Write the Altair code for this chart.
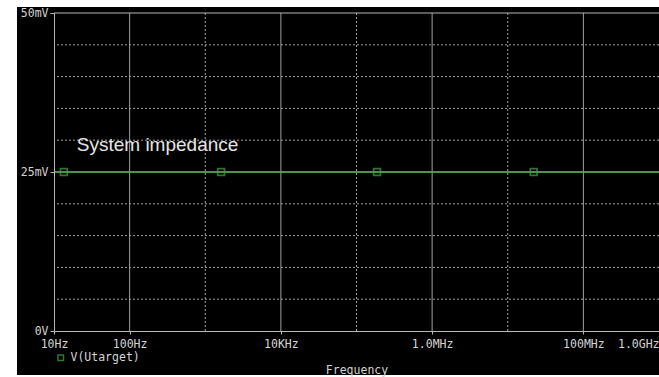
import altair as alt
import pandas as pd

# ---- data ----
freq_hz = [10, 1e9]
v_mv = [25, 25]
marker_hz = [13.5, 1620, 187000, 22000000]
marker_mv = [25, 25, 25, 25]
major_x = [100, 1e4, 1e6, 1e8]
minor_x = [1e3, 1e5, 1e7]
major_y = [25, 50]
minor_y = [5, 10, 15, 20, 30, 35, 40, 45]
x_tick_values = [10, 100, 1e4, 1e6, 1e8, 1e9]
x_tick_labels = ["10Hz", "100Hz", "10KHz", "1.0MHz", "100MHz", "1.0GHz"]
y_tick_values = [0, 25, 50]
y_tick_labels = ["0V", "25mV", "50mV"]
series_name = "V(Utarget)"
ann_text = ["System impedance"]
ann_hz = [20]
ann_mv = [29.2]

GRID = "#a0a0a0"
AXIS = "#b8b8b8"
TXT = "#d4d4d4"
GREEN = "#48a448"
MONO = "DejaVu Sans Mono"

xmap = "{" + ",".join(f"'{int(v)}':'{l}'" for v, l in zip(x_tick_values, x_tick_labels)) + "}"
ymap = "{" + ",".join(f"'{int(v)}':'{l}'" for v, l in zip(y_tick_values, y_tick_labels)) + "}"

xscale = alt.Scale(type="log", domain=[10, 1e9], nice=False)
yscale = alt.Scale(domain=[0, 50], nice=False, zero=False)

x_axis = alt.Axis(
    values=x_tick_values,
    labelExpr=xmap + "[toString(datum.value)]",
    grid=False,
    zindex=1,
    domainColor=AXIS,
    tickColor=AXIS,
    tickSize=3,
    labelColor=TXT,
    labelFont=MONO,
    labelFontSize=11.5,
    labelPadding=4,
    labelBound=False,
    labelFlush=False,
    labelOverlap=False,
    labelAlign={"condition": {"test": "datum.value >= 1e9", "value": "right"}, "value": "center"},
    title="Frequency",
    titleFont=MONO,
    titleFontSize=11.5,
    titleFontWeight="normal",
    titleColor=TXT,
    titlePadding=15,
)
y_axis = alt.Axis(
    values=y_tick_values,
    labelExpr=ymap + "[toString(datum.value)]",
    grid=False,
    zindex=1,
    domainColor=AXIS,
    tickColor=AXIS,
    tickSize=4,
    labelColor=TXT,
    labelFont=MONO,
    labelFontSize=11.5,
    labelPadding=2,
    labelBound=False,
    labelFlush=False,
    labelOverlap=False,
    title=None,
)

line_df = pd.DataFrame({"f": freq_hz, "v": v_mv})
mark_df = pd.DataFrame({"f": marker_hz, "v": marker_mv, "s": [series_name] * len(marker_hz)})
ann_df = pd.DataFrame({"f": ann_hz, "v": ann_mv, "t": ann_text})

bg = alt.Chart(pd.DataFrame({"a": [0]})).mark_rect(color="#000000").encode(
    x=alt.value(-37), x2=alt.value(605), y=alt.value(-6), y2=alt.value(362)
)

vminor = alt.Chart(pd.DataFrame({"f": minor_x})).mark_rule(color=GRID, strokeDash=[2, 2], strokeWidth=1).encode(
    x=alt.X("f:Q", scale=xscale, axis=x_axis)
)
vmajor = alt.Chart(pd.DataFrame({"f": major_x})).mark_rule(color=GRID, strokeWidth=1).encode(
    x=alt.X("f:Q", scale=xscale, axis=x_axis)
)
hminor = alt.Chart(pd.DataFrame({"v": minor_y})).mark_rule(color=GRID, strokeDash=[2, 2], strokeWidth=1).encode(
    y=alt.Y("v:Q", scale=yscale, axis=y_axis)
)
hmajor = alt.Chart(pd.DataFrame({"v": major_y})).mark_rule(color=AXIS, strokeWidth=1).encode(
    y=alt.Y("v:Q", scale=yscale, axis=y_axis)
)

line = alt.Chart(line_df).mark_line(color=GREEN, strokeWidth=1.3).encode(
    x=alt.X("f:Q", scale=xscale, axis=x_axis),
    y=alt.Y("v:Q", scale=yscale, axis=y_axis),
)

points = alt.Chart(mark_df).mark_point(shape="square", filled=False, size=46, strokeWidth=1.7).encode(
    x=alt.X("f:Q", scale=xscale, axis=x_axis),
    y=alt.Y("v:Q", scale=yscale, axis=y_axis),
    color=alt.Color(
        "s:N",
        scale=alt.Scale(domain=[series_name], range=[GREEN]),
        legend=alt.Legend(
            title=None,
            orient="none",
            legendX=1,
            legendY=339,
            padding=0,
            zindex=1,
            labelFont=MONO,
            labelFontSize=11.5,
            labelColor=TXT,
            symbolType="square",
            symbolFillColor="transparent",
            symbolStrokeWidth=1.5,
            symbolSize=30,
            labelOffset=4,
        ),
    ),
)

ann = alt.Chart(ann_df).mark_text(
    align="left", baseline="middle", font="Liberation Sans", fontSize=19, color="#e6e6e6"
).encode(x=alt.X("f:Q", scale=xscale, axis=x_axis), y=alt.Y("v:Q", scale=yscale, axis=y_axis), text="t:N")

chart = (
    alt.layer(bg, vminor, vmajor, hminor, hmajor, line, points, ann)
    .properties(
        width=605,
        height=318,
        autosize=alt.AutoSizeParams(type="none"),
        padding={"left": 54, "top": 13, "right": 0, "bottom": 46},
        background="white",
    )
    .configure_view(stroke=None)
)

chart.save("out.html", embed_options={"renderer": "svg", "actions": False})
